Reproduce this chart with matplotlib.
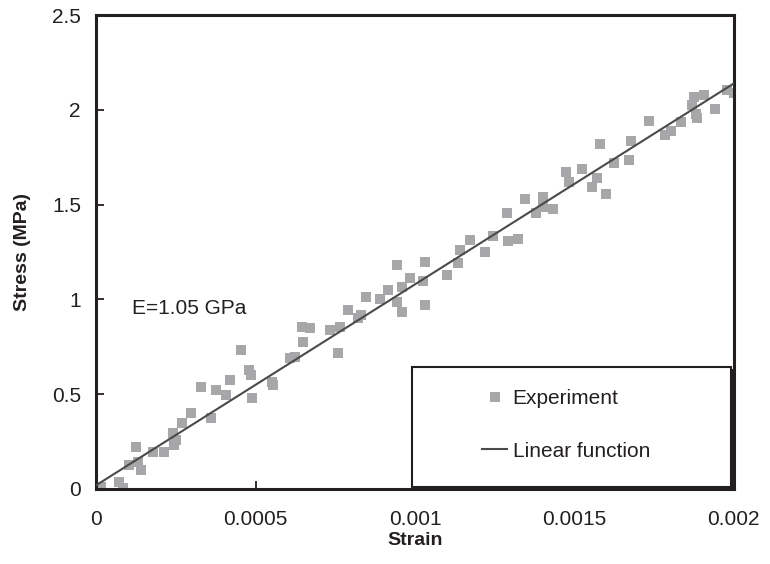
import numpy as np
import matplotlib
matplotlib.use("Agg")
import matplotlib.pyplot as plt
from matplotlib.patches import Rectangle

plt.rcParams['font.family'] = ['Liberation Sans', 'DejaVu Sans']

strain = [0.0000148, 0.0000723, 0.0000828, 0.000104, 0.000125, 0.00014, 0.00013,
          0.000177, 0.000214, 0.000245, 0.00024, 0.00025, 0.00027, 0.000298,
          0.00033, 0.00036, 0.000376, 0.000408, 0.000418, 0.000455, 0.00048,
          0.00049, 0.000485, 0.00055, 0.000555, 0.000607, 0.000623, 0.000644,
          0.00067, 0.000649, 0.000733, 0.000764, 0.000757, 0.00079, 0.000822,
          0.000832, 0.000846, 0.00089, 0.000916, 0.000942, 0.000958, 0.000942,
          0.000958, 0.000984, 0.00103, 0.001026, 0.00103, 0.0011, 0.001136,
          0.00114, 0.001173, 0.00122, 0.001244, 0.001288, 0.001293, 0.001322,
          0.001346, 0.00138, 0.0014, 0.0014, 0.001432, 0.001474, 0.001482,
          0.001524, 0.001555, 0.001571, 0.00158, 0.0016, 0.001624, 0.001676,
          0.00167, 0.001734, 0.001783, 0.001804, 0.001835, 0.001875, 0.001907,
          0.00187, 0.00188, 0.001886, 0.00194, 0.00198, 0.002]
stress = [0.012, 0.039, 0.005, 0.127, 0.223, 0.10, 0.144,
          0.197, 0.197, 0.232, 0.294, 0.258, 0.346, 0.40,
          0.54, 0.373, 0.522, 0.496, 0.575, 0.733, 0.628,
          0.478, 0.60, 0.566, 0.55, 0.69, 0.698, 0.856,
          0.847, 0.777, 0.839, 0.853, 0.716, 0.944, 0.90,
          0.918, 1.011, 1.0, 1.05, 0.988, 0.935, 1.18,
          1.067, 1.111, 1.199, 1.10, 0.97, 1.129, 1.19,
          1.26, 1.313, 1.252, 1.334, 1.454, 1.31, 1.32,
          1.528, 1.454, 1.542, 1.489, 1.48, 1.674, 1.621,
          1.686, 1.594, 1.639, 1.823, 1.554, 1.721, 1.837,
          1.735, 1.943, 1.867, 1.89, 1.938, 2.069, 2.078,
          2.025, 1.98, 1.96, 2.003, 2.105, 2.087]

# Linear fit, E = 1.05 GPa
fit_strain = [0.0, 0.002]
fit_stress = [0.02, 2.14]

xticks = [0, 0.0005, 0.001, 0.0015, 0.002]
xtick_labels = ['0', '0.0005', '0.001', '0.0015', '0.002']
yticks = [0, 0.5, 1, 1.5, 2, 2.5]
ytick_labels = ['0', '0.5', '1', '1.5', '2', '2.5']

fig = plt.figure(figsize=(7.7, 5.64), dpi=100)
ax = fig.add_axes([0.125, 0.133, 0.828, 0.84])

ink = '#231f20'
ax.plot(strain, stress, 's', color='#a7a7a9', markersize=7, markeredgewidth=0,
        label='Experiment', zorder=2)
ax.plot(fit_strain, fit_stress, '-', color='#4a4a4a', linewidth=1.5,
        label='Linear function', zorder=3)

ax.set_xlim(0, 0.002)
ax.set_ylim(0, 2.5)
ax.set_xticks(xticks)
ax.set_xticklabels(xtick_labels)
ax.set_yticks(yticks)
ax.set_yticklabels(ytick_labels)
ax.tick_params(direction='in', length=6, width=1.3, color=ink, labelsize=15,
               labelcolor=ink)
ax.tick_params(axis='x', pad=15)
ax.tick_params(axis='y', pad=11)
for sp in ax.spines.values():
    sp.set_linewidth(2.2)
    sp.set_color(ink)

ax.set_xlabel('Strain', fontsize=14, fontweight='bold', color=ink, labelpad=2)
ax.set_ylabel('Stress (MPa)', fontsize=14, fontweight='bold', color=ink, labelpad=15)

ax.text(0.000113, 0.95, 'E=1.05 GPa', fontsize=15, color=ink, va='center')

# legend box with a small drop shadow
ax.add_patch(Rectangle((0.498, 0.0), 0.5, 0.253, transform=ax.transAxes,
                       facecolor=ink, edgecolor='none', zorder=4, clip_on=False))
ax.add_patch(Rectangle((0.495, 0.005), 0.5, 0.253, transform=ax.transAxes,
                       facecolor='white', edgecolor=ink, linewidth=1.5, zorder=5,
                       clip_on=False))
leg = ax.legend(loc='center', bbox_to_anchor=(0.737, 0.135), frameon=False,
                fontsize=15, labelspacing=1.6, handlelength=1.2, handletextpad=0.25,
                markerscale=1.0)
leg.set_zorder(6)
for t in leg.get_texts():
    t.set_color(ink)

fig.savefig('out.png', dpi=100)
